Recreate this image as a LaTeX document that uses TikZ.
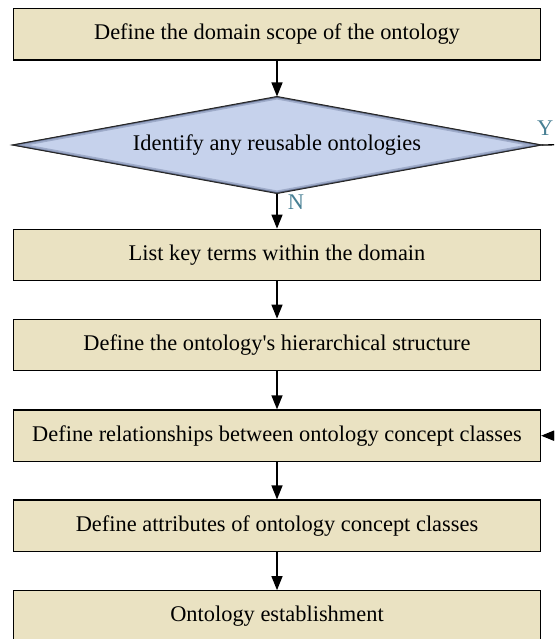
\documentclass[tikz,border=0pt]{standalone}
\usepackage{fontspec}
\setmainfont{Liberation Serif}
\usetikzlibrary{shapes.geometric,arrows.meta}
\definecolor{boxfill}{RGB}{234,226,194}
\definecolor{decfill}{RGB}{198,210,236}
\definecolor{decedge}{RGB}{110,124,160}
\definecolor{labelcol}{RGB}{72,128,148}
\begin{document}
\begin{tikzpicture}[x=1pt,y=-1pt,
  txt/.style={font=\fontsize{22.4}{26}\selectfont},
  stepbox/.style={txt, draw=black, line width=1.2pt, fill=boxfill,
    minimum width=527pt, minimum height=51.5pt, inner sep=0pt},
  decision/.style={txt, diamond, draw=black!85, line width=1pt, fill=decfill,
    minimum width=528pt, minimum height=96pt, inner sep=0pt, aspect=5.5},
  flow/.style={line width=1.3pt, -{Triangle[length=14pt,width=11pt]}},
  branch/.style={txt, text=labelcol, inner sep=0pt}]
\clip (0,0) rectangle (554,639);

% process steps and the decision
\node[stepbox] (b1) at (277,34.2) {Define the domain scope of the ontology};
\node[decision] (dec) at (277,145) {Identify any reusable ontologies};
\node[stepbox] (b3) at (277,255) {List key terms within the domain};
\node[stepbox] (b4) at (277,345) {Define the ontology\textquotesingle s hierarchical structure};
\node[stepbox] (b5) at (277,435.7) {Define relationships between ontology concept classes};
\node[stepbox] (b6) at (277,525.8) {Define attributes of ontology concept classes};
\node[stepbox] (b7) at (277,616.5) {Ontology establishment};

% darker rim inside the decision diamond
\begin{scope}
  \clip (dec.north) -- (dec.east) -- (dec.south) -- (dec.west) -- cycle;
  \draw[decedge, line width=6pt, opacity=0.45]
    (dec.north) -- (dec.east) -- (dec.south) -- (dec.west) -- cycle;
  \draw[decedge, line width=3pt, opacity=0.5]
    (dec.north) -- (dec.east) -- (dec.south) -- (dec.west) -- cycle;
\end{scope}
\draw[black!85, line width=1pt]
  (dec.north) -- (dec.east) -- (dec.south) -- (dec.west) -- cycle;

% branch labels
\node[branch] (nlab) at (296,202.5) {N};
\node[branch, anchor=east] (ylab) at (553.5,128) {Y};

% connectors
\coordinate (yend) at (610,144);
\coordinate (rin) at (610,435.7);
\draw[flow] (b1.south) -- (dec.north);
\draw[flow] (dec.south) -- (b3.north);
\draw[flow] (b3.south) -- (b4.north);
\draw[flow] (b4.south) -- (b5.north);
\draw[flow] (b5.south) -- (b6.north);
\draw[flow] (b6.south) -- (b7.north);
\draw[line width=1.3pt] (dec.east) -- (yend);
\draw[flow] (rin) -- (b5.east);
\end{tikzpicture}
\end{document}
